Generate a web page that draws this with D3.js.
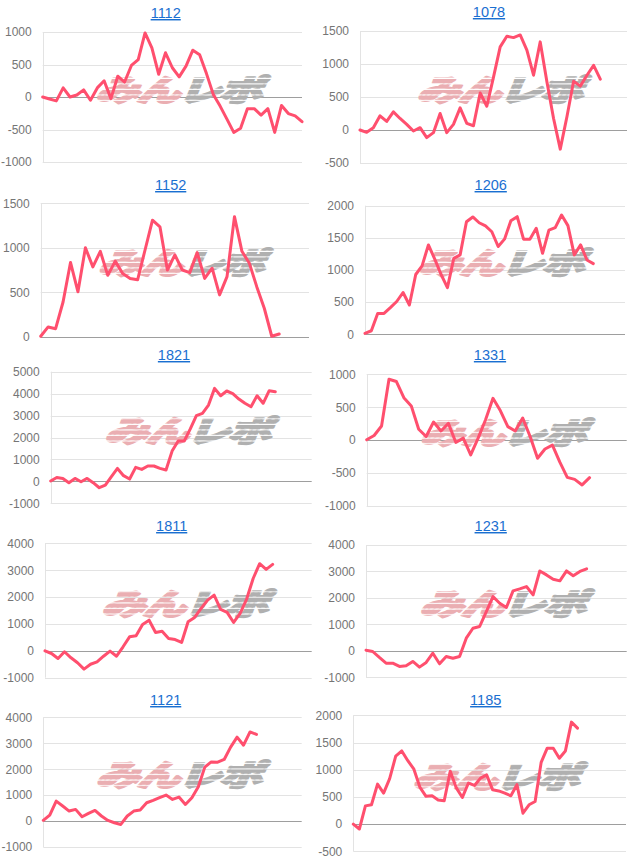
<!DOCTYPE html>
<html><head><meta charset="utf-8">
<script src="https://cdn.jsdelivr.net/npm/d3@7/dist/d3.min.js"></script>
<style>
html,body{margin:0;padding:0;background:#fff;}
svg{display:block;}
</style>
</head><body>
<script>
// ---- data ----
const titles = ["1112","1078","1152","1206","1821","1331","1811","1231","1121","1185"];
const s1112 = [0,-30,-60,140,0,30,110,-50,140,250,-25,320,230,485,575,985,755,350,680,450,310,475,720,650,360,40,-140,-340,-545,-480,-180,-180,-280,-180,-545,-130,-255,-290,-380];
const s1078 = [0,-35,35,215,130,275,175,85,-15,35,-115,-40,250,-40,85,335,100,65,560,360,800,1260,1420,1400,1440,1210,830,1335,730,175,-290,200,740,665,830,980,770];
const s1152 = [5,110,90,390,835,505,1000,785,960,690,850,710,655,640,975,1310,1235,750,920,750,720,945,655,770,470,675,1350,960,825,560,320,5,30];
const s1206 = [15,55,325,325,415,510,650,455,930,1065,1390,1170,930,725,1180,1235,1750,1825,1735,1685,1595,1365,1480,1765,1830,1480,1480,1650,1260,1620,1660,1855,1690,1235,1390,1155,1100];
const s1821 = [15,180,135,-60,135,-15,135,-60,-290,-170,215,590,260,105,640,545,700,700,590,515,1380,1840,1840,2390,2995,3100,3480,4240,3905,4120,4000,3755,3560,3405,3905,3560,4135,4090];
const s1331 = [5,70,215,925,890,645,520,165,55,275,140,255,-35,30,-225,30,310,635,445,205,140,335,55,-275,-135,-75,-335,-565,-595,-680,-570];
const s1811 = [0,-100,-285,-35,-260,-445,-680,-500,-410,-200,-10,-200,150,520,560,980,1140,680,730,460,420,310,1080,1240,1575,1885,2070,1540,1430,1055,1390,1925,2690,3240,3030,3215];
const s1231 = [25,-25,-250,-465,-465,-590,-565,-400,-615,-440,-90,-490,-215,-280,-215,480,855,920,1485,2050,1800,1640,2265,2340,2430,2115,3020,2870,2705,2645,3020,2835,3000,3100];
const s1121 = [25,230,770,580,385,450,165,295,410,195,25,-65,-130,195,385,425,705,795,900,1000,835,925,640,900,1325,2080,2280,2270,2375,2850,3235,2925,3435,3340];
const s1185 = [0,-90,335,355,735,570,835,1250,1345,1165,1010,675,510,520,445,430,970,665,490,755,710,845,905,630,610,570,520,725,200,355,415,1135,1395,1395,1210,1345,1875,1765];
const series = [s1112,s1078,s1152,s1206,s1821,s1331,s1811,s1231,s1121,s1185];
// y-axis tick labels per chart
const ticks1112 = [-1000,-500,0,500,1000];
const ticks1078 = [-500,0,500,1000,1500];
const ticks1152 = [0,500,1000,1500];
const ticks1206 = [0,500,1000,1500,2000];
const ticks1821 = [-1000,0,1000,2000,3000,4000,5000];
const ticks1331 = [-1000,-500,0,500,1000];
const ticks1811 = [-1000,0,1000,2000,3000,4000];
const ticks1231 = [-1000,0,1000,2000,3000,4000];
const ticks1121 = [-1000,0,1000,2000,3000,4000];
const ticks1185 = [-500,0,500,1000,1500,2000];
const tickSets = [ticks1112,ticks1078,ticks1152,ticks1206,ticks1821,ticks1331,ticks1811,ticks1231,ticks1121,ticks1185];
// number of x slots (intervals) on each chart's horizontal axis
const xSlots = [38,40,36,41,43,35,41,39,40,45];

// ---- layout (positions only) ----
const layout = [
  {l:42.7,r:302,t:32,b:162,tx:165.7,ty:18},
  {l:360,r:627,t:31,b:163,tx:489,ty:17},
  {l:40.7,r:309,t:203.3,b:336.7,tx:170.7,ty:190},
  {l:365,r:625,t:205.7,b:334.3,tx:490.7,ty:190},
  {l:50.7,r:311.7,t:371.7,b:503.3,tx:174,ty:360},
  {l:366.7,r:626.7,t:374.3,b:506,tx:490,ty:360},
  {l:45,r:311.7,t:543.3,b:677.7,tx:171.7,ty:531},
  {l:366,r:626.7,t:545,b:677.3,tx:490.7,ty:531},
  {l:43.3,r:301.7,t:717.3,b:847,tx:165.7,ty:705},
  {l:353.3,r:626,t:715.3,b:851.3,tx:485.7,ty:705}
];

const W = 639, H = 860;
const svg = d3.select("body").append("svg").attr("width",W).attr("height",H);

// stripe patterns for watermark
const defs = svg.append("defs");
function stripe(id,color){
  const p = defs.append("pattern").attr("id",id).attr("patternUnits","userSpaceOnUse")
    .attr("width",8).attr("height",7.5);
  p.append("rect").attr("width",8).attr("height",5.8).attr("fill",color);
}
stripe("pinkStripe","#eaaeb2");
stripe("grayStripe","#b0b0b0");

series.forEach((data,i)=>{
  const L = layout[i];
  const ticks = tickSets[i];
  const g = svg.append("g");
  const x = d3.scaleLinear().domain([0,xSlots[i]]).range([L.l,L.r]);
  const y = d3.scaleLinear().domain(d3.extent(ticks)).range([L.b,L.t]);

  // gridlines
  g.selectAll("line.grid").data(ticks).join("line")
    .attr("x1",L.l).attr("x2",L.r)
    .attr("y1",d=>Math.round(y(d))+0.5).attr("y2",d=>Math.round(y(d))+0.5)
    .attr("stroke",d=>d===0?"#9e9e9e":"#e3e3e3").attr("stroke-width",1);
  // left vertical baseline
  g.append("line").attr("x1",Math.round(L.l)+0.5).attr("x2",Math.round(L.l)+0.5)
    .attr("y1",L.t).attr("y2",L.b).attr("stroke","#e3e3e3");
  // tick labels
  g.selectAll("text.tick").data(ticks).join("text")
    .attr("x",L.l-11).attr("y",d=>y(d)).attr("dy","0.36em")
    .attr("text-anchor","end")
    .style("font-family","'Liberation Sans', Arial, sans-serif")
    .style("font-size","12px").attr("fill","#757575")
    .text(d=>String(d));

  // watermark
  const cx = (L.l+L.r)/2 + 10, cy = (L.t+L.b)/2 - 7;
  const wm = g.append("g").attr("transform",`translate(${cx},${cy}) scale(1.08,0.74) skewX(-16)`);
  const wt = wm.append("text").attr("text-anchor","middle").attr("dy","0.38em")
    .style("font-family","'Noto Sans CJK JP', sans-serif").style("font-weight","900")
    .style("font-size","40px").style("letter-spacing","-2px")
    .attr("stroke-width",3.2).attr("stroke-linejoin","round");
  wt.append("tspan").attr("fill","url(#pinkStripe)").attr("stroke","url(#pinkStripe)").text("みん");
  wt.append("tspan").attr("fill","url(#grayStripe)").attr("stroke","url(#grayStripe)").text("レポ");

  // line
  const line = d3.line().x((d,j)=>x(j)).y(d=>y(d)).curve(d3.curveLinear);
  g.append("path").datum(data).attr("d",line)
    .attr("fill","none").attr("stroke","#ff4f6e").attr("stroke-width",3)
    .attr("stroke-linejoin","round").attr("stroke-linecap","round");

  // title
  g.append("text").attr("x",L.tx).attr("y",L.ty).attr("text-anchor","middle")
    .style("font-family","'Liberation Sans', Arial, sans-serif").style("font-size","14.5px")
    .style("text-decoration","underline").attr("fill","#1a6fd1")
    .text(titles[i]);
});
</script>
</body></html>
